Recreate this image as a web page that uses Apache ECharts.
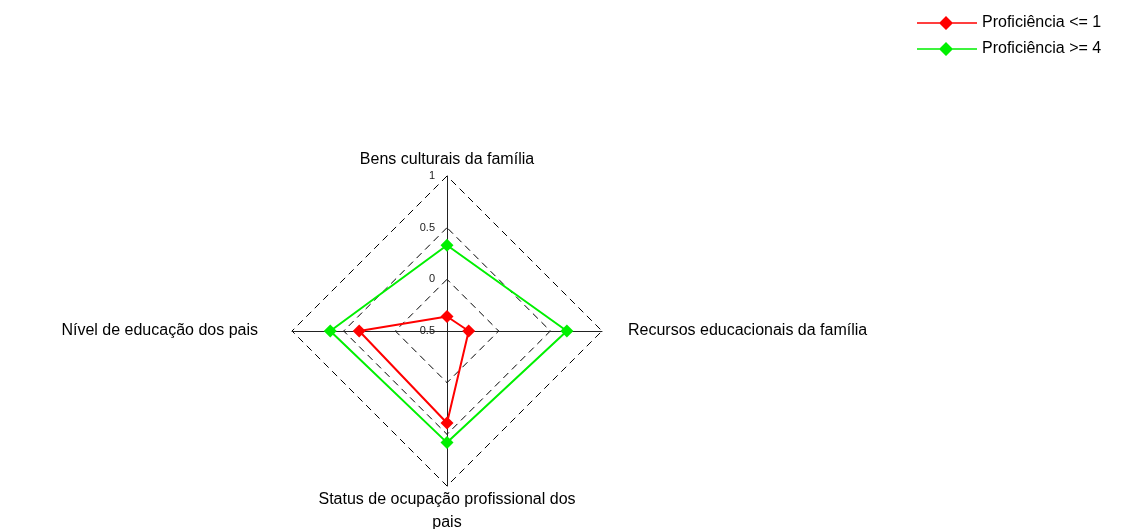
<!DOCTYPE html>
<html>
<head>
<meta charset="utf-8">
<script src="https://cdn.jsdelivr.net/npm/echarts@6/dist/echarts.min.js"></script>
<style>
  html, body { margin: 0; padding: 0; background: #fff; }
  #chart { width: 1135px; height: 529px; }
</style>
</head>
<body>
<div id="chart"></div>
<script>
// radar goes counter-clockwise from top: top, left, bottom, right
const indicators = [
  'Bens culturais da família',
  'Nível de educação dos pais',
  'Status de ocupação profissional dos\npais',
  'Recursos educacionais da família'
]
const seriesNames = ['Proficiência <= 1', 'Proficiência >= 4']
const lowValues = [-0.36, 0.35, 0.39, -0.29]
const highValues = [0.33, 0.63, 0.58, 0.66]
const axisMin = -0.5
const axisMax = 1

const COLORS = ['#ff0000', '#00f000']
const FONT = '"Liberation Sans", Arial, sans-serif'
// line with a diamond in the middle, for the legend
const LEGEND_ICON = 'path://M0,6.2H60V7.8H0Z M29,0L36,7L29,14L22,7Z'

const chart = echarts.init(document.getElementById('chart'), null, { renderer: 'canvas' })

const nameStyle = { color: '#000', fontFamily: FONT, fontSize: 16, lineHeight: 23 }

chart.setOption({
  backgroundColor: '#fff',
  animation: false,
  textStyle: { fontFamily: FONT },
  legend: {
    orient: 'vertical',
    left: 912,
    top: 10,
    itemWidth: 60,
    itemHeight: 14,
    itemGap: 10,
    icon: LEGEND_ICON,
    data: seriesNames,
    textStyle: { fontFamily: FONT, fontSize: 16, color: '#000' }
  },
  radar: {
    center: [447, 331],
    radius: 155,
    startAngle: 90,
    shape: 'polygon',
    splitNumber: 3,
    nameGap: 2,
    axisName: {
      ...nameStyle,
      formatter: name => {
        const i = indicators.indexOf(name)
        if (i === 1) return '{l|' + name + '}'
        if (i === 3) return '{r|' + name + '}'
        return name
      },
      rich: {
        l: { ...nameStyle, padding: [0, 32, 0, 0] },
        r: { ...nameStyle, padding: [0, 0, 0, 24] }
      }
    },
    indicator: indicators.map((name, i) => ({
      name,
      min: axisMin,
      max: axisMax,
      axisLabel: i === 0 ? { show: true } : undefined
    })),
    axisLine: { lineStyle: { color: '#222', width: 1 } },
    axisTick: { show: false },
    axisLabel: {
      show: false,
      color: '#222',
      fontSize: 11,
      fontFamily: FONT,
      margin: 12,
      formatter: v => String(v)
    },
    splitLine: { lineStyle: { color: '#000', type: [7, 5], width: 1 } },
    splitArea: { show: false }
  },
  series: [{
    type: 'radar',
    symbol: 'diamond',
    symbolSize: 13,
    data: [
      {
        name: seriesNames[0],
        value: lowValues,
        itemStyle: { color: COLORS[0] },
        lineStyle: { color: COLORS[0], width: 2 }
      },
      {
        name: seriesNames[1],
        value: highValues,
        itemStyle: { color: COLORS[1] },
        lineStyle: { color: COLORS[1], width: 2 }
      }
    ]
  }]
})
</script>
</body>
</html>
